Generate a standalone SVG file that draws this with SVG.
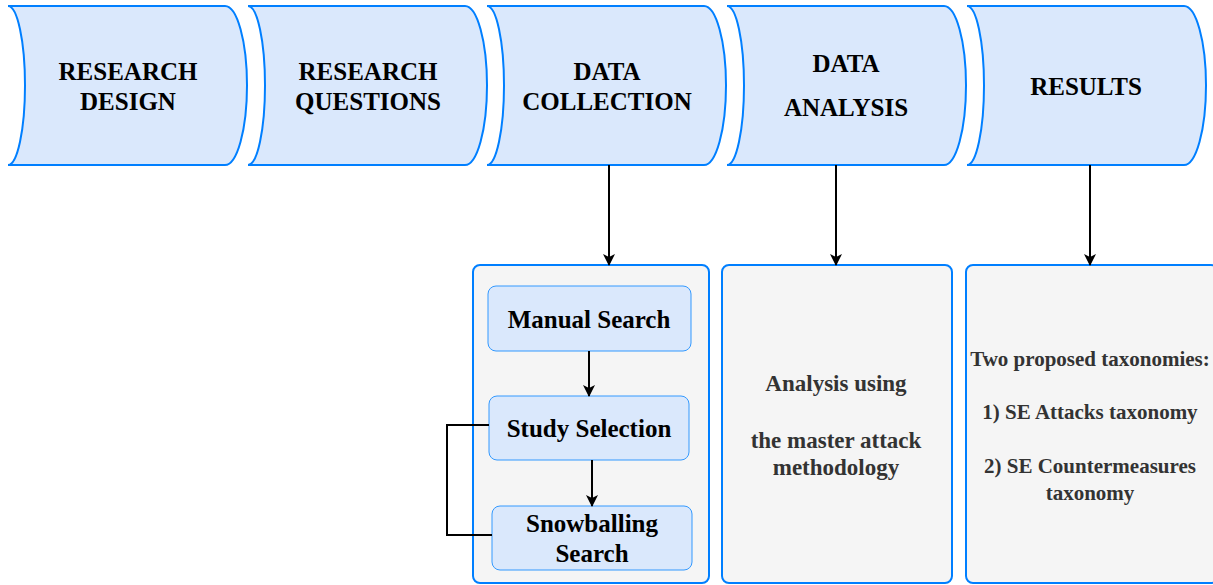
<svg xmlns="http://www.w3.org/2000/svg" width="1213" height="585" viewBox="0 0 1213 585">
<defs>
<style>
.hdr{fill:#dae8fc;stroke:#007fff;stroke-width:2}
.box{fill:#f5f5f5;stroke:#007fff;stroke-width:2}
.inner{fill:#dae8fc;stroke:#3399ff;stroke-width:1}
.ht{font-family:"Liberation Serif","Times New Roman",serif;font-weight:bold;font-size:25px;fill:#000;text-anchor:middle}
.gt{font-family:"Liberation Serif","Times New Roman",serif;font-weight:bold;font-size:21px;fill:#333;text-anchor:middle}
.gt2{font-size:23px}
.conn{fill:none;stroke:#000;stroke-width:2}
</style>
<marker id="arr" viewBox="0 0 12 12" refX="11" refY="6" markerWidth="12" markerHeight="12" markerUnits="userSpaceOnUse" orient="auto">
<path d="M0,0 L12,6 L0,12 L3,6 z" fill="#000"/>
</marker>
<path id="banner" d="M0,6 L217,6 A22 79.5 0 0 1 217,165 L0,165 A17 79.5 0 0 0 0,6 Z"/>
</defs>
<g id="n-research-design">
<use href="#banner" class="hdr" x="8"/>
<text class="ht" x="128" y="80">RESEARCH</text>
<text class="ht" x="128" y="110">DESIGN</text>
</g>
<g id="n-research-questions">
<use href="#banner" class="hdr" x="248"/>
<text class="ht" x="368" y="80">RESEARCH</text>
<text class="ht" x="368" y="110">QUESTIONS</text>
</g>
<g id="n-data-collection">
<use href="#banner" class="hdr" x="487"/>
<text class="ht" x="607" y="80">DATA</text>
<text class="ht" x="607" y="110">COLLECTION</text>
</g>
<g id="n-data-analysis">
<use href="#banner" class="hdr" x="727"/>
<text class="ht" x="846" y="72">DATA</text>
<text class="ht" x="846" y="116">ANALYSIS</text>
</g>
<g id="n-results">
<use href="#banner" class="hdr" x="967"/>
<text class="ht" x="1086" y="95">RESULTS</text>
</g>
<g id="n-collection-box">
<rect class="box" x="473" y="265" width="236" height="318" rx="7"/>
</g>
<g id="n-analysis-box">
<rect class="box" x="722" y="265" width="230" height="318" rx="7"/>
<text class="gt gt2" x="836" y="391">Analysis using</text>
<text class="gt gt2" x="836" y="448">the master attack</text>
<text class="gt gt2" x="836" y="475">methodology</text>
</g>
<g id="n-results-box">
<rect class="box" x="966" y="265" width="252" height="318" rx="7"/>
<text class="gt" x="1090" y="366">Two proposed taxonomies:</text>
<text class="gt" x="1090" y="419">1) SE Attacks taxonomy</text>
<text class="gt" x="1090" y="473">2) SE Countermeasures</text>
<text class="gt" x="1090" y="500">taxonomy</text>
</g>
<g id="n-manual-search">
<rect class="inner" x="488" y="286" width="203" height="65" rx="8"/>
<text class="ht" x="589" y="328">Manual Search</text>
</g>
<g id="n-study-selection">
<rect class="inner" x="489" y="396" width="200" height="64" rx="8"/>
<text class="ht" x="589" y="437">Study Selection</text>
</g>
<g id="n-snowballing-search">
<rect class="inner" x="492" y="506" width="200" height="64" rx="8"/>
<text class="ht" x="592" y="532">Snowballing</text>
<text class="ht" x="592" y="562">Search</text>
</g>
<g id="connectors">
<line class="conn" x1="609" y1="165" x2="609" y2="265" marker-end="url(#arr)"/>
<line class="conn" x1="836" y1="165" x2="836" y2="265" marker-end="url(#arr)"/>
<line class="conn" x1="1090" y1="165" x2="1090" y2="265" marker-end="url(#arr)"/>
<line class="conn" x1="589" y1="351" x2="589" y2="396" marker-end="url(#arr)"/>
<line class="conn" x1="592" y1="460" x2="592" y2="506" marker-end="url(#arr)"/>
<polyline class="conn" points="489,425 447,425 447,535 492,535"/>
</g>
</svg>
